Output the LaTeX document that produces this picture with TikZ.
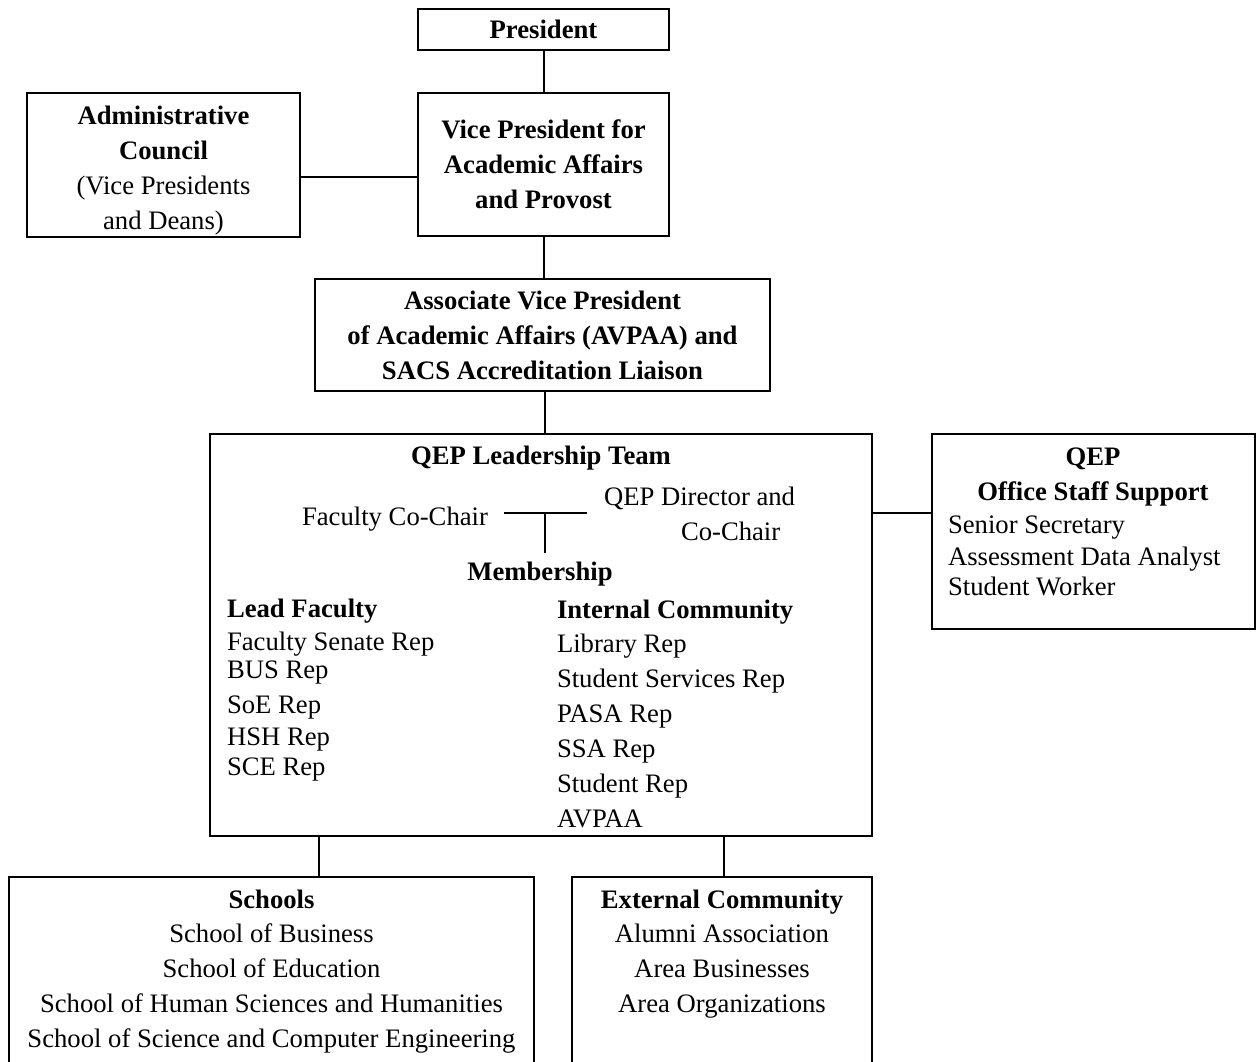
\documentclass[tikz,border=0pt]{standalone}
\usepackage{fontspec}
\setmainfont{Liberation Serif}
\usepackage{tikz}
\renewcommand{\small}{\fontsize{12pt}{15.75pt}\selectfont}
\newcommand{\pxu}{0.45pt}

\begin{document}
\begin{tikzpicture}[x=0.45pt,y=-0.45pt,line width=0.9pt,
  box/.style={draw=black,inner sep=0pt,align=center},
  head/.style={anchor=base,font=\small\bfseries},
  item/.style={anchor=base west,inner xsep=0pt}]
    \tikzstyle{every node}=[font=\small]
    \useasboundingbox (0,0) rectangle (1259,1062);
    \clip (0,0) rectangle (1259,1062);
    % руководство
    \node[box,font=\small\bfseries,minimum width=251*\pxu,minimum height=41*\pxu]
      (pres) at (543.5,29.5) {President};
    \node[box,minimum width=273*\pxu,minimum height=144*\pxu] (admin) at (163.5,165) {};
    \node[align=center] (admtxt) at (163.5,170.5)
      {\textbf{Administrative}\\\textbf{Council}\\(Vice Presidents\\and Deans)};
    \node[box,font=\small\bfseries,minimum width=251*\pxu,minimum height=143*\pxu]
      (vp) at (543.5,164.5) {Vice President for\\Academic Affairs\\and Provost};
    \node[box,font=\small\bfseries,minimum width=455*\pxu,minimum height=112*\pxu]
      (avp) at (542.5,335) {Associate Vice President\\of Academic Affairs (AVPAA) and\\SACS Accreditation Liaison};

    % рамки
    \node[box,minimum width=662*\pxu,minimum height=402*\pxu] (qep) at (541,635) {};
    \node[box,minimum width=323*\pxu,minimum height=195*\pxu] (office) at (1093.5,531.5) {};
    \node[box,minimum width=525*\pxu,minimum height=200*\pxu] (schools) at (271.5,977) {};
    \node[box,minimum width=300*\pxu,minimum height=200*\pxu] (ext) at (722,977) {};

    % команда QEP
    \node[head] (qlt) at (541,464) {QEP Leadership Team};
    \node[anchor=base] (fcc) at (395,525) {Faculty Co-Chair};
    \node[item] (qdir) at (603,505) {QEP Director and};
    \node[item] (qcc) at (680,540) {Co-Chair};
    \node[head] (mem) at (540,580) {Membership};
    \coordinate (tl) at (504,513);
    \coordinate (tr) at (587,513);
    \coordinate (tm) at (545,513);
    \draw (tl) -- (tr);
    \draw (tm) -- (tm |- mem.north);

    \node[head,anchor=base west,inner xsep=0pt] (lead) at (226,617) {Lead Faculty};
    \foreach \y/\t [count=\i] in {650/Faculty Senate Rep,678/BUS Rep,713/SoE Rep,745/HSH Rep,775/SCE Rep}
      \node[item] (lf\i) at (226,\y) {\t};

    \node[head,anchor=base west,inner xsep=0pt] (intc) at (556,618) {Internal Community};
    \foreach \t [count=\i] in {Library Rep,Student Services Rep,PASA Rep,SSA Rep,Student Rep,AVPAA}
      \node[item] (ic\i) at ({556},{617+35*\i}) {\t};

    % офис
    \node[head] (ofq) at (1093,465) {QEP};
    \node[head] (ofh) at (1093,500) {Office Staff Support};
    \foreach \y/\t [count=\i] in {533/Senior Secretary,565/Assessment Data Analyst,595/Student Worker}
      \node[item] (of\i) at (947,\y) {\t};

    % школы
    \node[head] (sch) at (271.5,908) {Schools};
    \foreach \t [count=\i] in {School of Business,School of Education,School of Human Sciences and Humanities,School of Science and Computer Engineering}
      \node[anchor=base] (sch\i) at ({271.5},{907+35*\i}) {\t};

    \node[head] (exh) at (722,908) {External Community};
    \foreach \t [count=\i] in {Alumni Association,Area Businesses,Area Organizations}
      \node[anchor=base] (ex\i) at ({722},{907+35*\i}) {\t};

    % связи
    \draw (pres.south) -- (vp.north);
    \coordinate (aj) at ([yshift=-5.4pt]admin.east);
    \draw (aj) -- (aj -| vp.west);
    \draw (vp.south) -- (vp.south |- avp.north);
    \draw ([xshift=1pt]avp.south) -- ([xshift=1pt]avp.south |- qep.north);
    \coordinate (oj) at ([yshift=8.3pt]office.west);
    \draw (oj) -- (oj -| qep.east);
    \coordinate (sj) at ([xshift=-99.9pt]qep.south);
    \draw (sj) -- (sj |- schools.north);
    \draw ([xshift=0.9pt]ext.north) -- ([xshift=0.9pt]ext.north |- qep.south);
\end{tikzpicture}
\end{document}
